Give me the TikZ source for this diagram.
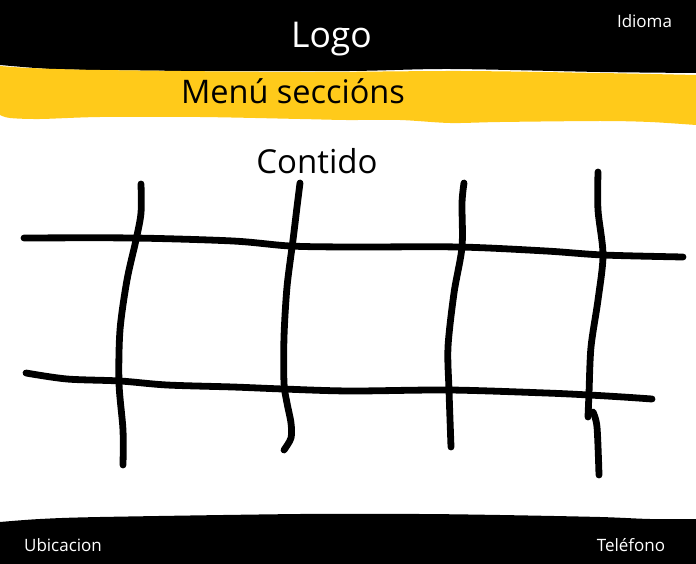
\documentclass[tikz,border=0pt]{standalone}
\usepackage{fontspec}
\setmainfont{Open Sans}
\definecolor{menuyellow}{RGB}{255,202,26}
\begin{document}
\begin{tikzpicture}[x=1pt,y=-1pt,
  pen/.style={line width=6.8pt,line cap=round,line join=round,black},
  hdrtext/.style={anchor=base,inner sep=0pt,white},
  bodytext/.style={anchor=base,inner sep=0pt,black}]
\useasboundingbox (0,0) rectangle (696,564);
\fill[white] (0,0) rectangle (696,564);
% header
\fill[black] (0,0) -- (696,0) -- (696,73)
  -- plot[smooth] coordinates {(696,73) (600,72) (450,69) (350,71) (200,71) (100,70) (50,69) (0,65)} -- cycle;
% menu band
\fill[menuyellow] plot[smooth] coordinates {(0,66) (30,68) (100,70) (300,72) (460,71) (600,73) (696,75)}
  -- (696,125)
  -- plot[smooth] coordinates {(696,125) (650,122) (600,121) (500,122) (450,123) (400,120) (346,120) (300,119) (200,117) (100,117) (40,119) (10,118) (0,115)} -- cycle;
% footer
\fill[black] plot[smooth] coordinates {(0,522) (40,519) (100,517) (300,514) (420,514) (500,515) (600,517) (650,519) (696,519)}
  -- (696,564) -- (0,564) -- cycle;
% texts
\node[hdrtext,font=\fontsize{35.5}{40}\selectfont] (logo) at (331.5,48) {Logo};
\node[hdrtext,font=\fontsize{17}{20}\selectfont] (idioma) at (644.5,28) {Idioma};
\node[bodytext,font=\fontsize{32.5}{36}\selectfont] (menu) at (293,104) {Menú seccións};
\node[bodytext,font=\fontsize{33}{36}\selectfont] (contido) at (317,174) {Contido};
\node[hdrtext,font=\fontsize{17}{20}\selectfont] (ubicacion) at (63,551) {Ubicacion};
\node[hdrtext,font=\fontsize{17}{20}\selectfont] (telefono) at (631,551) {Teléfono};
% grid sketch
\draw[pen] plot[smooth,tension=0.5] coordinates {(24,238) (133,238) (233,241) (290,246) (350,247) (459,247) (546,251) (603,255) (683,257)};
\draw[pen] plot[smooth,tension=0.5] coordinates {(26,373) (67,379) (120,381) (167,385) (233,387) (283,389) (350,391) (449,390) (546,393) (589,395) (623,397) (652,399)};
\draw[pen] plot[smooth,tension=0.5] coordinates {(141,184) (141,213) (136,240) (127,280) (120,330) (119,383) (123,430) (123,465)};
\draw[pen] plot[smooth,tension=0.5] coordinates {(300,183) (297,207) (293,240) (287,287) (284,337) (284,383) (287,403) (291,423) (291,438) (284,450)};
\draw[pen] plot[smooth,tension=0.5] coordinates {(464,183) (462,203) (462,247) (454,293) (448,347) (449,390) (451,447)};
\draw[pen] plot[smooth,tension=0.5] coordinates {(598,172) (598,210) (603,255) (598,300) (591,347) (589,393) (588,417)};
\draw[pen] plot[smooth,tension=0.5] coordinates {(593,412) (597,427) (599,475)};
\end{tikzpicture}
\end{document}
